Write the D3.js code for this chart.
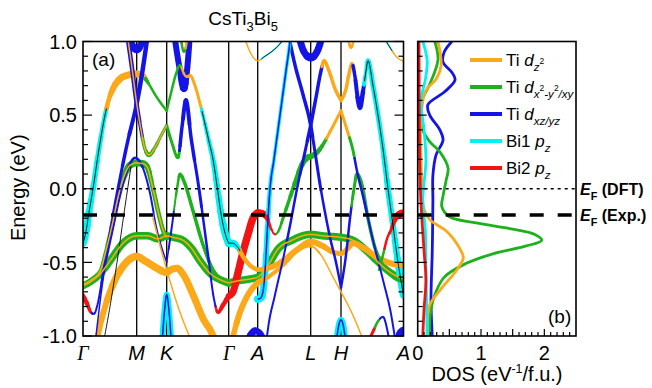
<!DOCTYPE html>
<html>
<head>
<meta charset="utf-8">
<script src="https://cdn.jsdelivr.net/npm/d3@7"></script>
<style>
  body { margin: 0; background: #fff; }
  svg { display: block; }
  text { font-family: "Liberation Sans", Arial, sans-serif; fill: #000; }
</style>
</head>
<body>
<svg id="chart" width="652" height="388"></svg>
<script>
// ---------------- data ----------------
// high-symmetry path (path length in arbitrary units) and labels
const kTicks  = [0, 53.7, 83.7, 145.7, 174.7, 227.7, 258, 320.5];
const kLabels = ["Γ", "M", "K", "Γ", "A", "L", "H", "A"];
const energyTicks = [-1, -0.5, 0, 0.5, 1];
const energyTickLabels = ["-1.0", "-0.5", "0.0", "0.5", "1.0"];
const dosTicks = [0, 1, 2];
const efDFT = 0.0;
const efExp = -0.178;

// orbital projections: 0 Ti dz2, 1 Ti dx2-y2/xy, 2 Ti dxz/yz, 3 Bi1 pz, 4 Bi2 pz, 5 none
// band points: [k, E (eV), dominant orbital, weight]
const bandGM1 = [[0,-0.37,3,1],[3,-0.29,3,1],[6,-0.16,3,0.9],[10,0.0,3,0.8],[16,0.27,3,0.7],[22,0.5,3,0.6],[26,0.61,0,0.6],[30,0.68,0,0.8],[36,0.74,0,0.9],[44,0.77,0,0.9],[53.7,0.78,0,0.9],[60,0.765,0,0.8],[66,0.71,1,0.35],[72,0.64,1,0.3],[78,0.58,1,0.3],[83.7,0.53,1,0.3]];
const bandKG1 = [[83.7,0.53,1,0.3],[88,0.65,1,0.3],[93,0.78,1,0.35],[97,0.84,1,0.35],[101,0.78,0,0.3],[104,0.76,0,0.35],[107,0.77,0,0.4],[112,0.7,0,0.4],[117,0.58,0,0.4],[121,0.47,3,0.5],[126,0.32,3,0.6],[130,0.2,3,0.7],[134,0.02,3,0.8],[138,-0.17,3,0.9],[142,-0.3,3,1],[145.7,-0.37,3,1]];
const bandGA1 = [[145.7,-0.37,3,1],[150,-0.37,3,0.9],[155,-0.4,3,0.7],[160,-0.46,0,0.6],[167,-0.52,0,0.6],[174.7,-0.55,0,0.6]];
const bandAA1 = [[174.7,-0.55,0,0.6],[185,-0.54,0,0.7],[200,-0.49,0,0.8],[215,-0.41,0,0.8],[227.7,-0.36,0,0.8],[240,-0.39,0,0.8],[250,-0.43,0,0.7],[258,-0.44,0,0.7],[264,-0.41,0,0.7],[270,-0.37,0,0.8],[280,-0.4,0,0.8],[295,-0.47,0,0.8],[310,-0.51,0,0.8],[320.5,-0.52,0,0.8]];
const bandGM2 = [[0,-0.73,4,0.7],[4,-0.78,4,0.6],[8,-0.84,4,0.4],[11,-0.85,2,0.2],[14,-0.8,2,0.2],[20,-0.58,2,0.3],[27,-0.3,2,0.35],[35,0.0,2,0.4],[44,0.3,2,0.5],[53.7,0.58,2,0.6],[59,0.78,2,0.6],[65,1.06,2,0.6]];
const bandGM3 = [[44,1.06,2,0.6],[49,0.82,2,0.6],[53.7,0.58,2,0.6],[58,0.4,2,0.5],[62,0.27,1,0.5],[66,0.23,1,0.6],[72,0.28,1,0.5],[78,0.36,1,0.4],[83.7,0.43,1,0.4]];
const bandKG2 = [[83.7,0.43,1,0.4],[89,0.31,1,0.4],[95,0.21,1,0.4],[99,0.42,2,0.5],[103,0.6,2,0.6],[108,0.35,2,0.5],[116,0.0,2,0.4],[125,-0.45,2,0.3],[131,-0.75,2,0.2],[135,-0.84,4,0.4],[140,-0.79,4,0.6],[145.7,-0.73,4,0.7]];
const bandMtop = [[45,1.06,2,0.9],[49,0.98,2,0.9],[53.7,0.945,2,1],[58,0.98,2,0.9],[62,1.06,2,0.9]];
const bandKtop1 = [[91,1.06,2,0.8],[96,0.84,2,0.8],[101,0.68,2,0.9],[104,0.8,2,0.8],[107,1.06,2,0.8]];
const bandKtop2 = [[97,1.06,0,0.35],[101,0.93,1,0.35],[105,1.06,0,0.35]];
const bandGM4 = [[12,-1.06,2,0.1],[20,-0.62,2,0.15],[30,-0.27,2,0.2],[40,0.03,2,0.25],[47,0.17,2,0.3],[52,0.21,2,0.3],[58,0.17,2,0.3],[66,0.0,2,0.2],[74,-0.28,2,0.15],[83.7,-0.5,2,0.15]];
const bandKG4 = [[83.7,-0.5,2,0.15],[89,-0.25,2,0.2],[94,0.0,1,0.3],[97,0.1,1,0.4],[101,0.05,1,0.5],[110,-0.15,1,0.5],[120,-0.38,1,0.5],[130,-0.55,1,0.5],[138,-0.61,1,0.5],[145.7,-0.63,1,0.5]];
const bandGM5 = [[0,-0.65,1,0.5],[8,-0.62,1,0.5],[17,-0.56,1,0.5],[23,-0.42,1,0.5],[29,-0.25,1,0.6],[36,-0.03,1,0.6],[42,0.1,1,0.8],[47,0.16,1,0.9],[53.7,0.175,1,0.9],[60,0.17,1,0.9],[64,0.15,1,0.8],[70,0.0,1,0.6],[76,-0.18,1,0.6],[80,-0.28,1,0.6],[83.7,-0.33,1,0.7]];
const bandGreen1 = [[0,-0.66,1,0.9],[8,-0.63,1,0.9],[17,-0.58,1,0.9],[28,-0.48,1,1],[40,-0.37,1,1],[53.7,-0.32,1,1],[65,-0.32,1,1],[75,-0.34,1,1],[83.7,-0.32,1,1],[90,-0.33,1,1],[100,-0.35,1,1],[108,-0.4,1,1],[118,-0.5,1,1],[128,-0.58,1,1],[138,-0.62,1,1],[145.7,-0.64,1,1]];
const bandGreen2 = [[145.7,-0.64,1,1],[155,-0.625,1,1],[165,-0.615,1,1],[174.7,-0.6,1,1],[185,-0.52,1,1],[195,-0.41,1,1],[209,-0.35,1,1],[227.7,-0.31,1,1],[240,-0.32,1,1],[258,-0.33,1,1],[270,-0.35,1,1],[285,-0.43,1,1],[300,-0.53,1,0.9],[310,-0.58,1,0.9],[320.5,-0.61,1,0.9]];
const bandOrange1 = [[13,-1.06,0,0.7],[20,-0.85,0,0.8],[30,-0.65,0,0.9],[42,-0.51,0,1],[53.7,-0.46,0,1],[62,-0.49,0,1],[74,-0.54,0,1],[83.7,-0.57,0,0.9],[88,-0.55,0,0.9],[94,-0.54,0,0.9],[100,-0.58,0,0.9],[110,-0.72,0,0.9],[120,-0.88,0,0.9],[130,-1.0,0,0.9],[133,-1.06,0,0.9]];
const bandThin1 = [[20,-1.06,5,0],[27,-0.8,5,0],[34,-0.5,5,0],[42,-0.12,5,0],[48,0.15,5,0]];
const bandThin2 = [[70,-0.2,0,0.05],[76,-0.36,0,0.05],[83.7,-0.55,0,0.05],[95,-0.8,0,0.05],[110,-1.06,0,0.05]];
const bandKbottom = [[79,-1.06,3,0.8],[81.5,-0.83,3,0.8],[83.7,-0.72,3,0.8],[86,-0.83,3,0.8],[88.5,-1.06,3,0.8]];
const bandRedGA = [[145.7,-0.73,4,0.8],[150,-0.7,4,0.9],[155,-0.57,4,1],[160,-0.43,4,1],[165,-0.31,4,1],[170,-0.2,4,1],[174.7,-0.165,4,1]];
const bandAL1 = [[174.7,-0.165,4,1],[180,-0.17,4,0.9],[184,-0.2,4,0.6],[188,-0.27,4,0.3],[192,-0.31,4,0.2],[196,-0.28,1,0.3],[200,-0.2,1,0.4],[206,-0.08,1,0.5],[212,0.04,1,0.6],[218,0.15,1,0.7],[224,0.21,1,0.8],[227.7,0.22,1,0.8],[233,0.24,1,0.7],[240,0.3,1,0.5],[248,0.4,0,0.4],[258,0.53,0,0.4]];
const bandHA1 = [[258,0.53,0,0.4],[264,0.4,0,0.4],[270,0.26,1,0.4],[274,0.12,2,0.3],[280,-0.05,2,0.3],[290,-0.35,2,0.25],[300,-0.62,2,0.2],[308,-0.85,2,0.2],[313,-1.06,2,0.2]];
const bandLX1 = [[205,1.06,2,0.5],[212,0.84,2,0.5],[220,0.64,2,0.5],[227.7,0.43,2,0.5],[232,0.25,2,0.4],[237,0.03,2,0.4],[242,-0.16,2,0.3],[247,-0.33,2,0.3],[253,-0.5,2,0.3],[258,-0.67,2,0.3]];
const bandHX1 = [[258,-0.67,2,0.3],[263,-0.45,2,0.3],[267,-0.2,2,0.3],[271,0.0,1,0.4],[274,0.1,1,0.5],[278,0.05,1,0.5],[285,-0.2,1,0.5],[292,-0.4,1,0.5],[300,-0.52,1,0.5],[310,-0.6,1,0.5],[320.5,-0.63,1,0.5]];
const bandAL2 = [[183,-1.06,2,0.2],[185,-0.95,2,0.2],[192,-0.72,2,0.2],[200,-0.48,2,0.25],[207,-0.25,2,0.3],[214,0.0,2,0.35],[221,0.22,2,0.4],[227.7,0.43,2,0.5]];
const bandLH2 = [[227.7,0.43,2,0.5],[233,0.62,2,0.5],[238,0.8,2,0.5],[241,0.87,0,0.5],[246,0.8,0,0.5],[252,0.68,0,0.5],[258,0.6,0,0.5]];
const bandHA2 = [[258,0.6,0,0.5],[263,0.68,0,0.5],[266,0.78,0,0.5],[269,0.85,0,0.5],[272,0.76,2,0.5],[275,0.6,2,0.6],[277,0.55,2,0.6],[280,0.66,2,0.6],[283,0.8,3,0.5],[285,0.87,3,0.6],[290,0.7,3,0.7],[295,0.5,3,0.7],[300,0.27,3,0.7],[305,0.0,3,0.8],[310,-0.25,3,0.8],[315,-0.5,3,0.9],[320.5,-0.72,3,1]];
const bandAcyan = [[174.7,-0.75,3,1],[178,-0.74,3,1],[181,-0.65,3,0.9],[183,-0.45,3,0.8],[185,-0.2,3,0.7],[187,0.0,3,0.6],[191,0.2,3,0.5],[195,0.4,3,0.5],[199,0.6,3,0.5],[203,0.8,3,0.5],[207,1.0,3,0.5],[208,1.06,3,0.5]];
const bandAtop1 = [[160,1.06,5,0],[167,0.93,0,0.1],[174.7,0.87,0,0.1],[182,0.9,3,0.1],[192,0.95,3,0.1],[206,1.06,3,0.1]];
const bandAtop2 = [[298,1.06,3,0.1],[306,0.97,3,0.1],[313,0.9,0,0.1],[320.5,0.865,0,0.1]];
const bandLtop = [[215,1.06,2,0.9],[221,0.93,2,0.9],[227.7,0.89,2,1],[234,0.93,2,0.9],[240,1.06,2,0.9]];
const bandHtop = [[264,1.06,0,0.3],[268,0.96,0,0.4],[272,1.06,0,0.3]];
const bandOrange2 = [[148,-1.06,0,0.7],[155,-0.88,0,0.8],[165,-0.72,0,0.8],[174.7,-0.64,0,0.8],[185,-0.6,0,0.6],[200,-0.52,0,0.5],[215,-0.42,0,0.4],[227.7,-0.39,0,0.3],[238,-0.45,0,0.15],[250,-0.6,0,0.1],[258,-0.7,0,0.1],[270,-0.86,0,0.1],[282,-1.06,0,0.1]];
const bandHbottom = [[253,-1.06,3,0.8],[256,-0.92,3,0.8],[258,-0.89,3,0.8],[260,-0.92,3,0.8],[263,-1.06,3,0.8]];
const bandAbottom1 = [[163,-1.06,2,0.8],[168,-0.99,2,0.9],[172,-0.965,2,0.9],[177,-0.98,2,0.8],[182,-1.06,2,0.8]];
const bandAbottom2 = [[314,-1.06,2,0.8],[317,-0.98,2,0.9],[320.5,-0.96,2,0.9]];
const bandHAlow = [[284,-1.06,4,0.4],[290,-0.97,4,0.4],[295,-0.9,1,0.3],[300,-0.87,2,0.2],[304,-0.95,2,0.2],[307,-1.06,2,0.2]];
const bandRedA2 = [[296,-0.55,1,0.3],[300,-0.45,1,0.3],[304,-0.34,4,0.3],[308,-0.28,4,0.4],[312,-0.21,4,0.6],[316,-0.175,4,0.9],[320.5,-0.165,4,1]];

// density of states per orbital: [DOS (eV^-1/f.u.), E (eV)]
const dosDz2 = [[0.32,1.0],[0.37,0.84],[0.3,0.75],[0.12,0.66],[0.05,0.47],[0.05,0.2],[0.07,0.0],[0.1,-0.14],[0.19,-0.21],[0.46,-0.29],[0.67,-0.41],[0.72,-0.47],[0.62,-0.55],[0.35,-0.69],[0.19,-0.79],[0.15,-1.0]];
const dosDx2 = [[0.27,1.0],[0.32,0.875],[0.19,0.71],[0.07,0.6],[0.07,0.41],[0.19,0.32],[0.35,0.25],[0.48,0.14],[0.45,0.06],[0.4,-0.05],[0.38,-0.12],[0.5,-0.19],[0.9,-0.23],[1.45,-0.27],[1.85,-0.31],[1.96,-0.35],[1.7,-0.39],[1.2,-0.44],[0.75,-0.51],[0.42,-0.6],[0.27,-0.72],[0.2,-0.85],[0.19,-1.0]];
const dosDxz = [[0.54,1.0],[0.42,0.93],[0.4,0.86],[0.54,0.79],[0.59,0.74],[0.43,0.66],[0.16,0.57],[0.19,0.5],[0.35,0.4],[0.4,0.33],[0.29,0.23],[0.24,0.09],[0.24,-0.08],[0.23,-0.42],[0.21,-0.76],[0.23,-1.0]];
const dosBi1 = [[0.08,1.0],[0.15,0.87],[0.12,0.74],[0.05,0.6],[0.1,0.4],[0.13,0.19],[0.08,-0.08],[0.12,-0.28],[0.13,-0.55],[0.15,-1.0]];
const dosBi2 = [[0.02,1.0],[0.03,0.26],[0.05,-0.08],[0.1,-0.42],[0.13,-0.62],[0.1,-0.82],[0.08,-1.0]];

// ---------------- styles ----------------
const orbColor = ["#FBA919", "#1DB21D", "#1414E6", "#00F2F2", "#F21414", "#000000"];

const bands = [
  bandGreen1, bandGreen2, bandOrange1, bandOrange2, bandGM1, bandKG1, bandGA1, bandAA1,
  bandGM2, bandGM3, bandKG2, bandMtop, bandKtop1, bandKtop2, bandGM4, bandKG4, bandGM5,
  bandThin1, bandThin2, bandKbottom, bandRedGA, bandAL1, bandHA1, bandLX1, bandHX1,
  bandAL2, bandLH2, bandHA2, bandAcyan, bandAtop1, bandAtop2, bandLtop, bandHtop,
  bandHbottom, bandAbottom1, bandAbottom2, bandHAlow, bandRedA2
];
// secondary colour running along the centre of some bands
const orangeCore = new Set([bandGreen1, bandGreen2, bandGM5, bandGM3]);
const blueCore = new Set([bandAcyan, bandKbottom, bandHbottom]);

const svg = d3.select("#chart");

const x = d3.scaleLinear().domain([0, 320.5]).range([83, 403.5]);
const y = d3.scaleLinear().domain([-1, 1]).range([336, 41.5]);
const xd = d3.scaleLinear().domain([0, 2.5]).range([417.7, 576]);

// projected weight -> stroke width
const widthOf = w => 1.3 + 6.4 * Math.pow(w, 1.5);

// monotone cubic sampling of a band
function sampleBand(pts, step) {
  const n = pts.length;
  const xs = pts.map(p => p[0]), ys = pts.map(p => p[1]);
  const h = [], d = [];
  for (let i = 0; i < n - 1; i++) { h.push(xs[i+1]-xs[i]); d.push((ys[i+1]-ys[i])/h[i]); }
  const m = new Array(n);
  for (let i = 1; i < n - 1; i++) {
    const p = (d[i-1]*h[i] + d[i]*h[i-1]) / (h[i-1]+h[i]);
    m[i] = (Math.sign(d[i-1]) + Math.sign(d[i])) * Math.min(Math.abs(d[i-1]), Math.abs(d[i]), 0.5*Math.abs(p)) || 0;
  }
  if (n === 2) { m[0] = m[1] = d[0]; }
  else {
    m[0] = (3*d[0] - m[1]) / 2;
    m[n-1] = (3*d[n-2] - m[n-2]) / 2;
  }
  const out = [];
  for (let i = 0; i < n - 1; i++) {
    const steps = Math.max(2, Math.ceil(h[i] / step));
    for (let s = 0; s < steps; s++) {
      const t = s / steps;
      const t2 = t*t, t3 = t2*t;
      const e = (2*t3-3*t2+1)*ys[i] + (t3-2*t2+t)*h[i]*m[i] + (-2*t3+3*t2)*ys[i+1] + (t3-t2)*h[i]*m[i+1];
      const orb = t < 0.5 ? pts[i][2] : pts[i+1][2];
      const w = pts[i][3] + (pts[i+1][3]-pts[i][3]) * t;
      out.push({k: xs[i] + h[i]*t, e, orb, w});
    }
  }
  const last = pts[n-1];
  out.push({k: last[0], e: last[1], orb: last[2], w: last[3]});
  return out;
}

// split a sampled band into runs of equal colour and width
function runsOf(samples) {
  const runs = [];
  let cur = null;
  samples.forEach(s => {
    const wq = Math.round(widthOf(s.w) * 2) / 2;
    if (!cur || cur.orb !== s.orb || cur.wq !== wq) {
      const prev = cur ? cur.pts[cur.pts.length - 1] : null;
      cur = {orb: s.orb, wq, pts: prev ? [prev] : []};
      runs.push(cur);
    }
    cur.pts.push(s);
  });
  return runs;
}

// ---------------- band panel ----------------
const defs = svg.append("defs");
defs.append("clipPath").attr("id", "clipBands")
  .append("rect").attr("x", x(0)).attr("y", y(1)).attr("width", x(320.5) - x(0)).attr("height", y(-1) - y(1));
defs.append("clipPath").attr("id", "clipDos")
  .append("rect").attr("x", xd(0)).attr("y", y(1)).attr("width", xd(2.5) - xd(0)).attr("height", y(-1) - y(1));

const gB = svg.append("g");

gB.selectAll("line.hs").data(kTicks.slice(1, -1)).join("line")
  .attr("x1", d => x(d)).attr("x2", d => x(d)).attr("y1", y(1)).attr("y2", y(-1))
  .attr("stroke", "#000").attr("stroke-width", 1.3);

const gBands = gB.append("g").attr("clip-path", "url(#clipBands)");
const lineKE = d3.line().x(d => x(d.k)).y(d => y(d.e));

const allRuns = [];
const cores = [];
bands.forEach(b => {
  const s = sampleBand(b, 0.5);
  runsOf(s).forEach(r => allRuns.push(r));
  if (orangeCore.has(b)) cores.push({pts: s, color: orbColor[0], w: 1.5});
  else if (blueCore.has(b)) cores.push({pts: s, color: orbColor[2], w: 1.5});
  else {
    // black centre line through the Bi1-dominated parts
    let seg = [];
    s.forEach(p => {
      if (p.orb === 3) seg.push(p);
      else { if (seg.length > 1) cores.push({pts: seg, color: "#000", w: 0.9}); seg = []; }
    });
    if (seg.length > 1) cores.push({pts: seg, color: "#000", w: 0.9});
  }
});
allRuns.sort((a, b) => b.wq - a.wq);

gBands.selectAll("path.run").data(allRuns).join("path")
  .attr("d", r => lineKE(r.pts))
  .attr("fill", "none")
  .attr("stroke", r => orbColor[r.orb])
  .attr("stroke-width", r => r.orb === 5 ? 0.9 : r.wq)
  .attr("stroke-linecap", "round")
  .attr("stroke-linejoin", "round");

gBands.selectAll("path.core").data(cores).join("path")
  .attr("d", c => lineKE(c.pts))
  .attr("fill", "none")
  .attr("stroke", c => c.color)
  .attr("stroke-width", c => c.w);

// ---------------- DOS panel ----------------
const gD = svg.append("g").attr("clip-path", "url(#clipDos)");
const lineDos = d3.line().x(d => xd(d[0])).y(d => y(d[1])).curve(d3.curveCatmullRom.alpha(0.5));
const dosSeries = [
  {data: dosDxz, c: orbColor[2]},
  {data: dosDx2, c: orbColor[1]},
  {data: dosDz2, c: orbColor[0]},
  {data: dosBi1, c: orbColor[3]},
  {data: dosBi2, c: orbColor[4]}
];
gD.selectAll("path").data(dosSeries).join("path")
  .attr("d", s => lineDos(s.data))
  .attr("fill", "none").attr("stroke", s => s.c).attr("stroke-width", 2.8);

// Fermi levels
[[x(0), x(320.5)], [xd(0), xd(2.5)]].forEach(([a, b]) => {
  svg.append("line").attr("x1", a).attr("x2", b).attr("y1", y(efDFT)).attr("y2", y(efDFT))
    .attr("stroke", "#000").attr("stroke-width", 1.3).attr("stroke-dasharray", "3,4");
  svg.append("line").attr("x1", a).attr("x2", b).attr("y1", y(efExp)).attr("y2", y(efExp))
    .attr("stroke", "#000").attr("stroke-width", 3.6).attr("stroke-dasharray", "14,14");
});

// ---------------- axes and frames ----------------
const minorE = d3.range(-1, 1.0001, 0.1).map(v => +v.toFixed(2));
function eTicks(x0, dir) {
  svg.append("g").selectAll("line").data(minorE).join("line")
    .attr("x1", x0).attr("x2", d => x0 + dir * (Math.abs(d * 2 - Math.round(d * 2)) < 1e-6 ? 9 : 5))
    .attr("y1", d => y(d)).attr("y2", d => y(d))
    .attr("stroke", "#000").attr("stroke-width", 1.2);
}
eTicks(x(0), 1);
eTicks(x(320.5), -1);
eTicks(xd(0), 1);

const minorD = d3.range(0, 2.5001, 0.1).map(v => +v.toFixed(2));
svg.append("g").selectAll("line").data(minorD.slice(1, -1)).join("line")
  .attr("x1", d => xd(d)).attr("x2", d => xd(d))
  .attr("y1", y(-1)).attr("y2", d => y(-1) - (Math.abs(d * 2 - Math.round(d * 2)) < 1e-6 ? 7 : 4))
  .attr("stroke", "#000").attr("stroke-width", 1.2);

svg.append("rect").attr("x", x(0)).attr("y", y(1)).attr("width", x(320.5) - x(0)).attr("height", y(-1) - y(1))
  .attr("fill", "none").attr("stroke", "#000").attr("stroke-width", 1.6);
svg.append("rect").attr("x", xd(0)).attr("y", y(1)).attr("width", xd(2.5) - xd(0)).attr("height", y(-1) - y(1))
  .attr("fill", "none").attr("stroke", "#000").attr("stroke-width", 1.6);

svg.append("g").selectAll("text").data(energyTicks).join("text")
  .attr("x", 77).attr("y", d => y(d)).attr("dy", "0.36em")
  .attr("text-anchor", "end").attr("font-size", 20)
  .text((d, i) => energyTickLabels[i]);

svg.append("g").selectAll("text").data(kTicks).join("text")
  .attr("x", d => x(d)).attr("y", 360)
  .attr("text-anchor", "middle").attr("font-size", 20).attr("font-style", "italic")
  .style("font-family", (d, i) => kLabels[i] === "Γ" ? "'Liberation Serif', serif" : null)
  .text((d, i) => kLabels[i]);

svg.append("g").selectAll("text").data(dosTicks).join("text")
  .attr("x", d => xd(d)).attr("y", 360).attr("text-anchor", "middle").attr("font-size", 20)
  .text(d => d);

svg.append("text").attr("transform", `translate(25,${y(0) - 1}) rotate(-90)`)
  .attr("text-anchor", "middle").attr("font-size", 20).text("Energy (eV)");

// rich text: parts {t, it, b, lv} with lv 0 base, 1 subscript, 2 superscript on subscript, -1 superscript
function rich(sel, parts, size) {
  const shift = {0: 0, 1: size * 0.3, 2: -size * 0.12, "-1": -size * 0.4};
  const fs = {0: size, 1: size * 0.68, 2: size * 0.5, "-1": size * 0.62};
  let cur = 0;
  parts.forEach(p => {
    const lv = p.lv || 0;
    const sh = shift[lv];
    sel.append("tspan").attr("dy", sh - cur).attr("font-size", fs[lv])
      .attr("font-style", p.it ? "italic" : null).attr("font-weight", p.b ? "bold" : null)
      .text(p.t);
    cur = sh;
  });
}

const dosTitle = svg.append("text").attr("x", 497).attr("y", 381).attr("text-anchor", "middle").attr("font-size", 20);
rich(dosTitle, [{t: "DOS (eV"}, {t: "-1", lv: -1}, {t: "/f.u.)"}], 20);

const title = svg.append("text").attr("x", 243).attr("y", 25).attr("text-anchor", "middle").attr("font-size", 19);
rich(title, [{t: "CsTi"}, {t: "3", lv: 1}, {t: "Bi"}, {t: "5", lv: 1}], 19);

svg.append("text").attr("x", 92).attr("y", 66).attr("font-size", 19).text("(a)");
svg.append("text").attr("x", 548).attr("y", 323).attr("font-size", 19).text("(b)");

// legend
const legendItems = [
  [{t: "Ti "}, {t: "d", it: 1}, {t: "z", it: 1, lv: 1}, {t: "2", lv: 2}],
  [{t: "Ti "}, {t: "d", it: 1}, {t: "x", it: 1, lv: 1}, {t: "2", lv: 2}, {t: "-y", it: 1, lv: 1}, {t: "2", lv: 2}, {t: "/xy", it: 1, lv: 1}],
  [{t: "Ti "}, {t: "d", it: 1}, {t: "xz/yz", it: 1, lv: 1}],
  [{t: "Bi1 "}, {t: "p", it: 1}, {t: "z", it: 1, lv: 1}],
  [{t: "Bi2 "}, {t: "p", it: 1}, {t: "z", it: 1, lv: 1}]
];
const legendY = [60, 87, 114, 141, 168];
const gL = svg.append("g");
legendItems.forEach((parts, i) => {
  gL.append("line").attr("x1", 470).attr("x2", 502).attr("y1", legendY[i]).attr("y2", legendY[i])
    .attr("stroke", orbColor[i]).attr("stroke-width", 4);
  const t = gL.append("text").attr("x", 506).attr("y", legendY[i] + 6).attr("font-size", 17);
  rich(t, parts, 17);
});

// Fermi level labels
[[efDFT, " (DFT)"], [efExp, " (Exp.)"]].forEach(([e, s]) => {
  const t = svg.append("text").attr("x", 580).attr("y", y(e) + 6).attr("font-size", 16).attr("font-weight", "bold");
  rich(t, [{t: "E", it: 1, b: 1}, {t: "F", lv: 1, b: 1}, {t: s, b: 1}], 16);
});
</script>
</body>
</html>
